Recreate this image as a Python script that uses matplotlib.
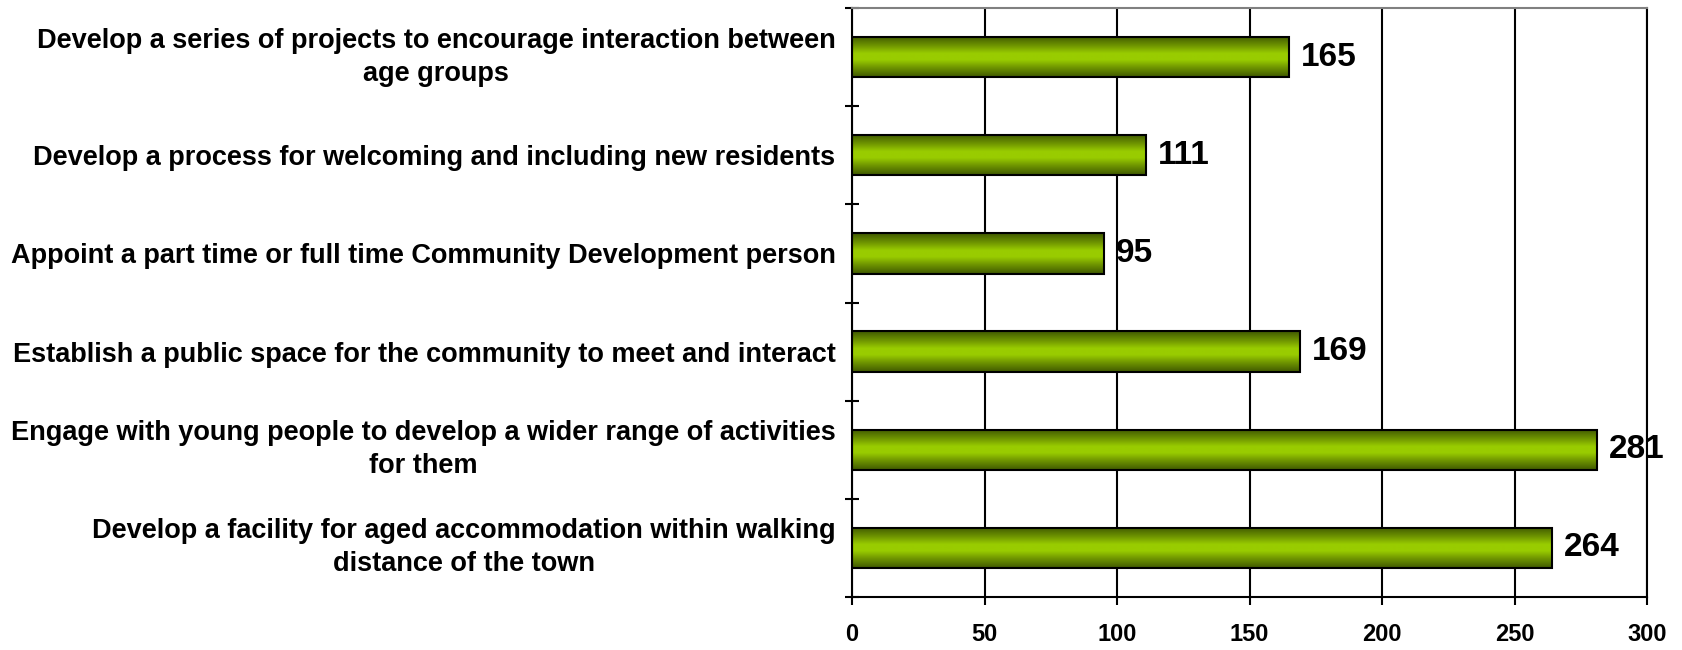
import matplotlib
matplotlib.use("Agg")
import matplotlib.pyplot as plt
import numpy as np
from matplotlib.colors import LinearSegmentedColormap

categories = [
    "Develop a series of projects to encourage interaction between\nage groups",
    "Develop a process for welcoming and including new residents",
    "Appoint a part time or full time Community Development person",
    "Establish a public space for the community to meet and interact",
    "Engage with young people to develop a wider range of activities\nfor them",
    "Develop a facility for aged accommodation within walking\ndistance of the town",
]
values = [165, 111, 95, 169, 281, 264]
xticks = [0, 50, 100, 150, 200, 250, 300]

plt.rcParams['font.family'] = ['Liberation Sans', 'DejaVu Sans']

fig = plt.figure(figsize=(16.82, 6.5), dpi=100)
ax = fig.add_axes([0.5066, 0.0815, 0.4726, 0.9062])

y = np.arange(len(categories))
bars = ax.barh(y, values, height=0.41, color='none', edgecolor='black', linewidth=1.5, zorder=3)

cmap = LinearSegmentedColormap.from_list(
    'g', [(0.0, '#3f5800'), (0.25, '#739a00'), (0.42, '#99cc00'), (0.58, '#99cc00'),
          (0.75, '#739a00'), (1.0, '#3f5800')])
grad = np.linspace(0, 1, 256).reshape(-1, 1)
for rect in bars:
    x0, y0 = rect.get_x(), rect.get_y()
    w, h = rect.get_width(), rect.get_height()
    im = ax.imshow(grad, cmap=cmap, aspect='auto', extent=(x0, x0 + w, y0, y0 + h),
                   origin='lower', zorder=2, interpolation='bilinear')
    im.set_clip_path(rect)

for yi, v in zip(y, values):
    ax.text(v + 4.5, yi, str(v), va='center', ha='left', fontsize=24, fontweight='bold', zorder=4)

ax.set_xlim(0, 300)
ax.set_ylim(len(categories) - 0.5, -0.5)
ax.set_xticks(xticks)
ax.set_xticklabels([str(t) for t in xticks], fontsize=17, fontweight='bold')
ax.tick_params(axis='x', length=6, width=1.5, direction='out', pad=13)

ax.set_yticks(y)
ax.set_yticklabels(categories, fontsize=19.5, fontweight='bold')
for lab in ax.get_yticklabels():
    lab.set_multialignment('center')
    lab.set_linespacing(1.35)
    if '\n' in lab.get_text():
        lab.set_verticalalignment('center')
    else:
        lab.set_verticalalignment('center_baseline')
ax.tick_params(axis='y', which='major', length=0, pad=12)
ax.set_yticks(np.arange(-0.5, len(categories), 1.0), minor=True)
ax.tick_params(axis='y', which='minor', length=10, width=1.5, direction='inout')

ax.grid(axis='x', color='black', linewidth=1.5, zorder=1)
ax.set_axisbelow(True)
for s in ['left', 'bottom', 'right']:
    ax.spines[s].set_linewidth(1.5)
    ax.spines[s].set_color('black')
ax.spines['top'].set_color('#808080')
ax.spines['top'].set_linewidth(1.5)

fig.savefig('out.png', dpi=100, facecolor='white')
